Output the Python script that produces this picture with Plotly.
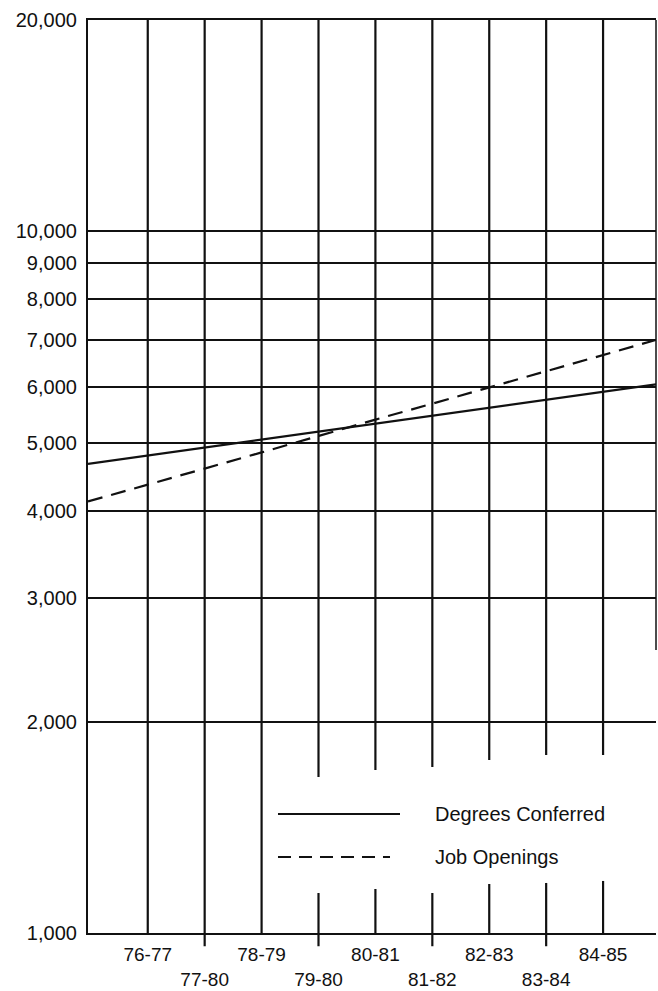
import plotly.graph_objects as go

# ---- data ----
years = ["76-77", "77-80", "78-79", "79-80", "80-81", "81-82", "82-83", "83-84", "84-85"]
# values at left plot edge, each year, right plot edge
degrees_conferred = [4660, 4790, 4920, 5050, 5180, 5320, 5460, 5600, 5750, 5900, 6050]
job_openings = [4120, 4350, 4590, 4840, 5110, 5390, 5680, 5990, 6320, 6660, 7000]
y_ticks = [1000, 2000, 3000, 4000, 5000, 6000, 7000, 8000, 9000, 10000, 20000]
y_tick_labels = ["1,000", "2,000", "3,000", "4,000", "5,000", "6,000", "7,000",
                 "8,000", "9,000", "10,000", "20,000"]

# ---- layout constants ----
X_MIN, X_MAX = -0.05, 9.93
idx = list(range(1, len(years) + 1))
x_all = [X_MIN] + idx + [X_MAX]
FONT = "Liberation Sans, Arial, Helvetica, sans-serif"
BLACK = "#111111"

fig = go.Figure()
fig.add_trace(go.Scatter(x=x_all, y=degrees_conferred, mode="lines",
                         line=dict(color=BLACK, width=2.2), name="Degrees Conferred",
                         showlegend=False))
fig.add_trace(go.Scatter(x=x_all, y=job_openings, mode="lines",
                         line=dict(color=BLACK, width=2.2, dash="15px,9px"),
                         name="Job Openings", showlegend=False))

shapes = []
# vertical grid lines; broken around the legend for later years
gaps = {4: (0.1709, 0.0438), 5: (0.1785, 0.0482), 6: (0.1818, 0.0438),
        7: (0.1895, 0.0537), 8: (0.1950, 0.0548), 9: (0.1950, 0.0570)}
for i in idx:
    bottom = -0.0145 if i % 2 == 0 else 0.0
    if i in gaps:
        g_top, g_bot = gaps[i]
        shapes.append(dict(type="line", xref="x", yref="paper", x0=i, x1=i, y0=g_top, y1=1,
                           line=dict(color=BLACK, width=2.2)))
        shapes.append(dict(type="line", xref="x", yref="paper", x0=i, x1=i, y0=bottom, y1=g_bot,
                           line=dict(color=BLACK, width=2.2)))
    else:
        shapes.append(dict(type="line", xref="x", yref="paper", x0=i, x1=i, y0=bottom, y1=1,
                           line=dict(color=BLACK, width=2.2)))
# right border (upper part only)
shapes.append(dict(type="line", xref="paper", yref="paper", x0=1, x1=1, y0=0.31, y1=1,
                   line=dict(color=BLACK, width=1.5)))
# legend samples
shapes.append(dict(type="line", xref="paper", yref="paper", x0=0.3345, x1=0.5493,
                   y0=0.1303, y1=0.1303, line=dict(color=BLACK, width=2)))
shapes.append(dict(type="line", xref="paper", yref="paper", x0=0.3345, x1=0.5317,
                   y0=0.0832, y1=0.0832, line=dict(color=BLACK, width=2, dash="13px,8px")))

annotations = [
    dict(text="Degrees Conferred", xref="paper", yref="paper", x=0.6074, y=0.1303,
         xanchor="left", yanchor="middle", showarrow=False,
         font=dict(family=FONT, size=20, color=BLACK)),
    dict(text="Job Openings", xref="paper", yref="paper", x=0.6074, y=0.0832,
         xanchor="left", yanchor="middle", showarrow=False,
         font=dict(family=FONT, size=20, color=BLACK)),
]

ticktext = [y if k % 2 == 0 else "<br>" + y for k, y in enumerate(years)]

fig.update_layout(
    width=658, height=991,
    margin=dict(l=88, r=2, t=20, b=58, autoexpand=False),
    paper_bgcolor="white", plot_bgcolor="white",
    shapes=shapes, annotations=annotations,
    font=dict(family=FONT, size=20, color=BLACK),
    xaxis=dict(range=[X_MIN, X_MAX], tickvals=idx, ticktext=ticktext, automargin=False,
               showgrid=False, zeroline=False, showline=True, linecolor=BLACK, linewidth=2.2,
               mirror=True, ticks="outside", ticklen=3, tickcolor="rgba(0,0,0,0)",
               tickfont=dict(family=FONT, size=19, color=BLACK)),
    yaxis=dict(type="log", range=[3, 4.30103], tickvals=y_ticks, ticktext=y_tick_labels,
               automargin=False,
               showgrid=True, gridcolor=BLACK, gridwidth=2.2, zeroline=False,
               showline=True, linecolor=BLACK, linewidth=2.2,
               ticks="outside", ticklen=5, tickcolor="rgba(0,0,0,0)",
               tickfont=dict(family=FONT, size=20, color=BLACK)),
)

fig.write_html("out.html", config={"displayModeBar": False},
               post_script="document.body.style.margin='0';document.body.style.overflow='hidden';")
